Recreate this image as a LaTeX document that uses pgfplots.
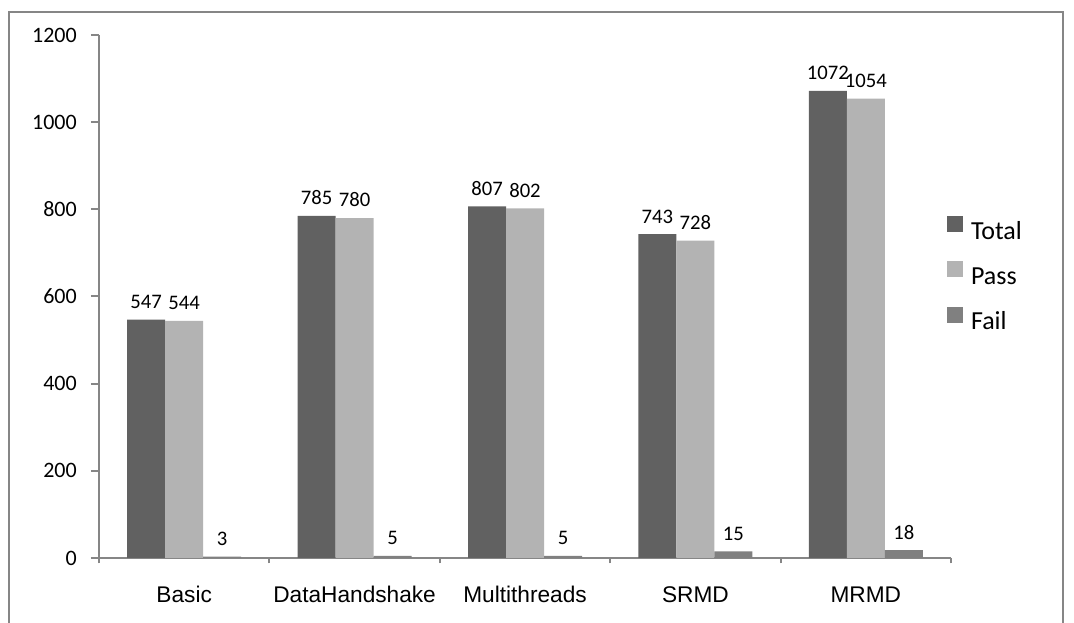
\documentclass[border=0pt]{standalone}
\usepackage{pgfplots}
\pgfplotsset{compat=1.18}
\usepackage{fontspec}
\setmainfont{Carlito}
\newfontfamily\arialf{Liberation Sans}
\definecolor{ctotal}{HTML}{616161}
\definecolor{cpass}{HTML}{B3B3B3}
\definecolor{cfail}{HTML}{808080}
\definecolor{axgray}{HTML}{868686}
\begin{document}
\begin{tikzpicture}
\useasboundingbox (0,0) rectangle (805.5pt,467.25pt);
\draw[color=axgray, line width=1.5pt] (6.75pt,-20pt) rectangle (797.25pt,458.25pt);
\begin{axis}[
  at={(74.25pt,48.75pt)}, anchor=south west,
  scale only axis, width=639pt, height=392.25pt,
  xmin=-0.5, xmax=4.5, ymin=0, ymax=1200,
  axis x line*=bottom, axis y line*=left,
  axis line style={color=axgray, line width=1.5pt},
  tick style={color=axgray, line width=1.5pt},
  tick align=outside, major tick length=6pt, minor tick length=4pt,
  ytick={0,200,...,1200},
  xtick={0,1,2,3,4},
  xticklabels={Basic,DataHandshake,Multithreads,SRMD,MRMD},
  major x tick style={draw=none},
  minor xtick={-0.5,0.5,1.5,2.5,3.5,4.5},
  /pgf/number format/assume math mode=true,
  /pgf/number format/1000 sep={},
  yticklabel style={font=\fontsize{16.5}{18}\selectfont, inner sep=0pt, xshift=-10.5pt},
  xticklabel style={font=\arialf\fontsize{17}{19}\selectfont, inner sep=0pt, anchor=base, yshift=-27.75pt},
  ybar=0pt, bar width=0.223,
  nodes near coords,
  every node near coord/.append style={font=\fontsize{15.5}{16}\selectfont, inner sep=0pt, yshift=8pt, color=black,
    /pgf/number format/1000 sep={}},
  legend style={at={(0.995,0.5386)}, anchor=west, draw=none, fill=none, inner sep=0pt,
    font=\fontsize{19.5}{21}\selectfont, row sep=11.5pt,
    nodes={inner sep=0pt, text height=15pt, text depth=5pt}},
  legend cell align=left,
]
\addplot[fill=ctotal, draw=none, bar shift=-0.223,
  legend image code/.code={\fill[ctotal] (0pt,0.4pt) rectangle (12pt,12.4pt); \path (18pt,0pt);}]
  coordinates {(0,547) (1,785) (2,807) (3,743) (4,1072)};
\addplot[fill=cpass, draw=none, bar shift=0,
  legend image code/.code={\fill[cpass] (0pt,0.4pt) rectangle (12pt,12.4pt); \path (18pt,0pt);}]
  coordinates {(0,544) (1,780) (2,802) (3,728) (4,1054)};
\addplot[fill=cfail, draw=none, bar shift=0.223,
  legend image code/.code={\fill[cfail] (0pt,0.4pt) rectangle (12pt,12.4pt); \path (18pt,0pt);}]
  coordinates {(0,3) (1,5) (2,5) (3,15) (4,18)};
\legend{Total,Pass,Fail}
\end{axis}
\end{tikzpicture}
\end{document}
